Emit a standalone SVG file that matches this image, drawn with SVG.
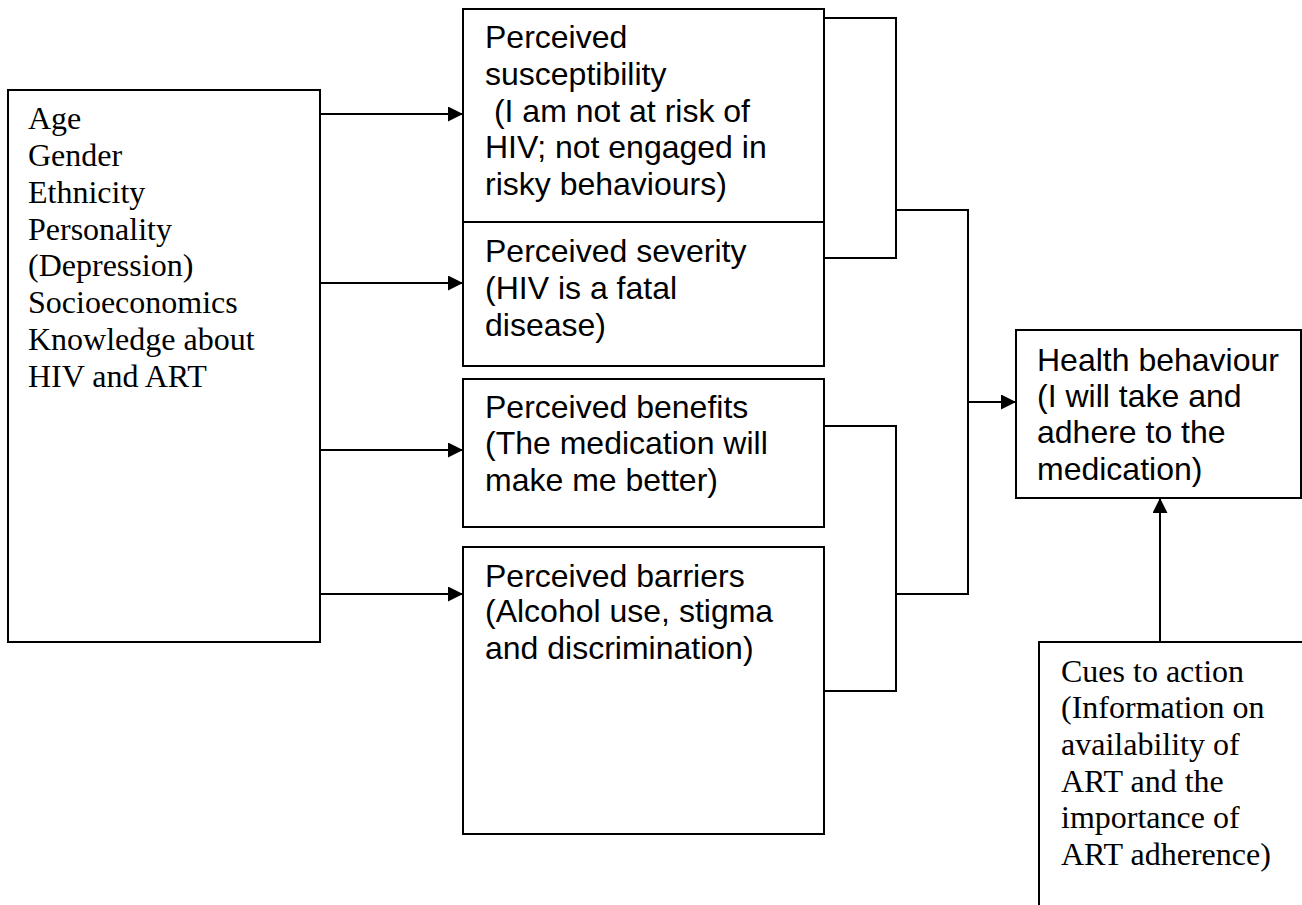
<svg xmlns="http://www.w3.org/2000/svg" width="1302" height="905" viewBox="0 0 1302 905">
<defs>
<style>
.box{fill:#fff;stroke:#000;stroke-width:2}
.ln{fill:none;stroke:#000;stroke-width:2}
.serif{font-family:"Liberation Serif","Times New Roman",serif;font-size:32px;fill:#000}
.sans{font-family:"Liberation Sans",Arial,sans-serif;font-size:32px;fill:#000}
</style>
<marker id="ah" markerUnits="userSpaceOnUse" markerWidth="16" markerHeight="16" refX="15" refY="7.5" orient="auto">
<path d="M0,0 L15,7.5 L0,15 Z" fill="#000"/>
</marker>
</defs>
<rect width="1302" height="905" fill="#fff"/>
<g id="connectors">
<path class="ln" d="M320,114 H463" marker-end="url(#ah)"/>
<path class="ln" d="M320,283 H463" marker-end="url(#ah)"/>
<path class="ln" d="M320,450 H463" marker-end="url(#ah)"/>
<path class="ln" d="M320,594 H463" marker-end="url(#ah)"/>
<path class="ln" d="M824,18 H896 V258 H824"/>
<path class="ln" d="M824,426 H896 V691 H824"/>
<path class="ln" d="M896,210 H968 V594 H896"/>
<path class="ln" d="M968,402 H1016" marker-end="url(#ah)"/>
<path class="ln" d="M1160,642 V498" marker-end="url(#ah)"/>
</g>
<g id="factors">
<rect class="box" x="8" y="90" width="312" height="552"/>
<text class="serif" x="28" y="129">Age</text>
<text class="serif" x="28" y="166">Gender</text>
<text class="serif" x="28" y="203">Ethnicity</text>
<text class="serif" x="28" y="240">Personality</text>
<text class="serif" x="28" y="276">(Depression)</text>
<text class="serif" x="28" y="313">Socioeconomics</text>
<text class="serif" x="28" y="350">Knowledge about</text>
<text class="serif" x="28" y="387">HIV and ART</text>
</g>
<g id="susceptibility">
<rect class="box" x="463" y="9" width="361" height="213"/>
<text class="sans" x="485" y="48">Perceived</text>
<text class="sans" x="485" y="85">susceptibility</text>
<text class="sans" x="485" y="122" xml:space="preserve"> (I am not at risk of</text>
<text class="sans" x="485" y="158">HIV; not engaged in</text>
<text class="sans" x="485" y="195">risky behaviours)</text>
</g>
<g id="severity">
<rect class="box" x="463" y="222" width="361" height="144"/>
<text class="sans" x="485" y="262">Perceived severity</text>
<text class="sans" x="485" y="299">(HIV is a fatal</text>
<text class="sans" x="485" y="336">disease)</text>
</g>
<g id="benefits">
<rect class="box" x="463" y="379" width="361" height="148"/>
<text class="sans" x="485" y="418">Perceived benefits</text>
<text class="sans" x="485" y="454">(The medication will</text>
<text class="sans" x="485" y="491">make me better)</text>
</g>
<g id="barriers">
<rect class="box" x="463" y="547" width="361" height="287"/>
<text class="sans" x="485" y="587">Perceived barriers</text>
<text class="sans" x="485" y="622">(Alcohol use, stigma</text>
<text class="sans" x="485" y="659">and discrimination)</text>
</g>
<g id="health-behaviour">
<rect class="box" x="1016" y="330" width="285" height="168"/>
<text class="sans" x="1037" y="371">Health behaviour</text>
<text class="sans" x="1037" y="407">(I will take and</text>
<text class="sans" x="1037" y="443">adhere to the</text>
<text class="sans" x="1037" y="480">medication)</text>
</g>
<g id="cues-to-action">
<path class="ln" d="M1039,905 V642 H1302"/>
<text class="serif" x="1061" y="682">Cues to action</text>
<text class="serif" x="1061" y="718">(Information on</text>
<text class="serif" x="1061" y="755">availability of</text>
<text class="serif" x="1061" y="792">ART and the</text>
<text class="serif" x="1061" y="828">importance of</text>
<text class="serif" x="1061" y="865">ART adherence)</text>
</g>
</svg>
